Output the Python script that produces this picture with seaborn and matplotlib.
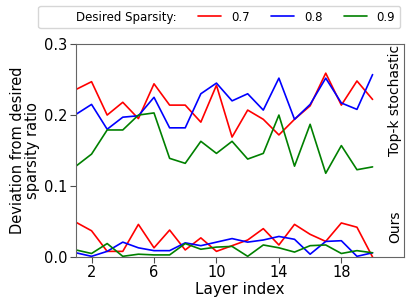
import numpy as np
import pandas as pd
import matplotlib
matplotlib.use("Agg")
import matplotlib.pyplot as plt
from matplotlib.lines import Line2D
import seaborn as sns

layers = list(range(1, 21))
sparsities = ["0.7", "0.8", "0.9"]
colors = ["red", "blue", "green"]

# Top-k stochastic deviations
topk_07 = [0.236, 0.247, 0.200, 0.218, 0.195, 0.244, 0.214, 0.214, 0.190, 0.242,
           0.169, 0.207, 0.194, 0.172, 0.194, 0.213, 0.259, 0.214, 0.248, 0.222]
topk_08 = [0.201, 0.215, 0.180, 0.197, 0.199, 0.225, 0.182, 0.182, 0.230, 0.245,
           0.220, 0.230, 0.207, 0.252, 0.194, 0.215, 0.252, 0.217, 0.208, 0.257]
topk_09 = [0.128, 0.145, 0.179, 0.179, 0.200, 0.203, 0.139, 0.132, 0.163, 0.146,
           0.163, 0.138, 0.146, 0.200, 0.128, 0.187, 0.118, 0.157, 0.123, 0.127]

# Ours deviations
ours_07 = [0.049, 0.037, 0.008, 0.008, 0.046, 0.013, 0.038, 0.010, 0.027, 0.008,
           0.016, 0.024, 0.040, 0.017, 0.046, 0.032, 0.022, 0.048, 0.042, 0.000]
ours_08 = [0.006, 0.001, 0.008, 0.021, 0.013, 0.009, 0.009, 0.020, 0.016, 0.021,
           0.026, 0.021, 0.024, 0.029, 0.025, 0.004, 0.022, 0.023, 0.001, 0.006]
ours_09 = [0.010, 0.005, 0.019, 0.001, 0.004, 0.003, 0.003, 0.019, 0.011, 0.014,
           0.015, 0.001, 0.017, 0.013, 0.007, 0.016, 0.017, 0.005, 0.009, 0.006]

topk = [topk_07, topk_08, topk_09]
ours = [ours_07, ours_08, ours_09]

sns.set_style("ticks")
plt.rcParams['font.family'] = ['DejaVu Sans']
plt.rcParams['text.color'] = 'black'
plt.rcParams['axes.labelcolor'] = 'black'
plt.rcParams['xtick.labelcolor'] = 'black'
plt.rcParams['ytick.labelcolor'] = 'black'

fig = plt.figure(figsize=(4.15, 3.06), dpi=100)
ax = fig.add_axes([0.183, 0.160, 0.790, 0.696])

for s, c, yt, yo in zip(sparsities, colors, topk, ours):
    sns.lineplot(x=layers, y=yt, color=c, lw=1.2, ax=ax)
    sns.lineplot(x=layers, y=yo, color=c, lw=1.2, ax=ax)

ax.set_xlim(1, 22)
ax.set_ylim(0, 0.3)
ax.set_xticks([2, 6, 10, 14, 18])
ax.set_yticks([0.0, 0.1, 0.2, 0.3])
ax.tick_params(labelsize=10.5, length=4, color="0.3", pad=2)
for sp in ax.spines.values():
    sp.set_color("0.4")
ax.set_xlabel("Layer index", fontsize=11, labelpad=1)
ax.set_ylabel("Deviation from desired\nsparsity ratio", fontsize=10.5, labelpad=3, linespacing=1.0)

ax.text(0.973, 0.995, "Top-k stochastic", transform=ax.transAxes, rotation=90,
        ha="center", va="top", fontsize=10)
ax.text(0.973, 0.066, "Ours", transform=ax.transAxes, rotation=90,
        ha="center", va="bottom", fontsize=10)

handles = [Line2D([], [], color="none")] + [Line2D([], [], color=c, lw=1.2) for c in colors]
labels = ["Desired Sparsity:"] + sparsities
fig.legend(handles, labels, ncol=4, loc="upper right", bbox_to_anchor=(0.978, 1.0),
           fontsize=8.5, frameon=True, fancybox=True, handlelength=2.0,
           columnspacing=1.8, borderpad=0.4, edgecolor="0.8")

fig.savefig("out.png", dpi=100)
